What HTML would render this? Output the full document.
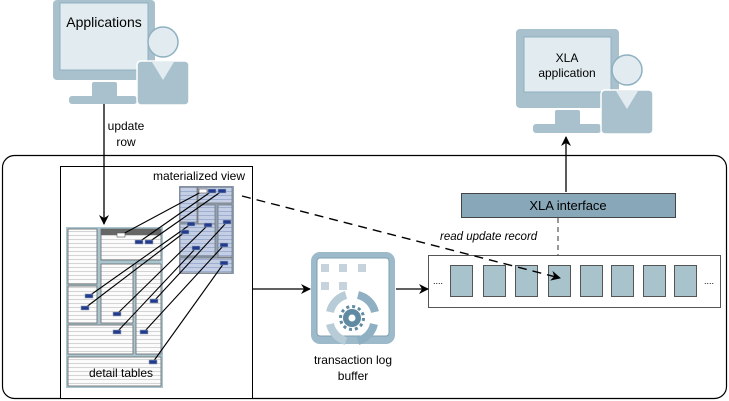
<!DOCTYPE html>
<html><head><meta charset="utf-8"><style>
html,body{margin:0;padding:0;background:#fff;}
svg{display:block;font-family:"Liberation Sans",sans-serif;}
</style></head><body>
<svg width="729" height="401" viewBox="0 0 729 401" xmlns="http://www.w3.org/2000/svg">
<defs>
<pattern id="st" width="4" height="4" patternUnits="userSpaceOnUse"><rect width="4" height="4" fill="#fbfbfb"/><rect y="3" width="4" height="1" fill="#d4d4d4"/></pattern>
<pattern id="sb" width="4" height="4" patternUnits="userSpaceOnUse"><rect width="4" height="4" fill="#c4cfe6"/><rect y="3" width="4" height="1" fill="#9eaed0"/></pattern>
<marker id="ah" markerWidth="10" markerHeight="10" refX="9" refY="5" orient="auto" markerUnits="userSpaceOnUse"><path d="M0,0 L10,5 L0,10 L3,5 Z" fill="#000"/></marker>
</defs>

<rect x="2.5" y="155.5" width="724" height="243" rx="12" fill="none" stroke="#000" stroke-width="1.2"/>
<rect x="60.5" y="166.5" width="192" height="232" fill="#fff" stroke="#000" stroke-width="1"/>

<!-- Applications computer -->
<rect x="53" y="0" width="102" height="80" rx="4" fill="#a9c1cd"/>
<rect x="60" y="3" width="88" height="67" fill="#e2ebf0" stroke="#8fb0c0"/>
<rect x="92" y="82" width="25" height="16" rx="2" fill="#a9c1cd"/>
<rect x="69" y="96" width="68" height="8" rx="3" fill="#a9c1cd"/>
<circle cx="163" cy="42" r="15" fill="#e2ebf0" stroke="#8fb0c0" stroke-width="1.5"/>
<rect x="137" y="61" width="52" height="44" rx="4" fill="#a9c1cd" stroke="#fff" stroke-width="1.5"/>
<path d="M152,62 L163,80 L174,62" fill="#e2ebf0"/>
<text x="104" y="27" font-size="14" text-anchor="middle">Applications</text>
<line x1="104" y1="104" x2="104" y2="224" stroke="#000" stroke-width="1.3" marker-end="url(#ah)"/>
<text x="126" y="130" font-size="12" text-anchor="middle">update</text>
<text x="126" y="146" font-size="12" text-anchor="middle">row</text>

<!-- XLA computer -->
<rect x="516" y="29" width="103" height="79" rx="4" fill="#a9c1cd"/>
<rect x="524" y="37" width="87" height="55" fill="#e2ebf0" stroke="#8fb0c0"/>
<rect x="555" y="110" width="25" height="16" rx="2" fill="#a9c1cd"/>
<rect x="533" y="124" width="68" height="9" rx="3" fill="#a9c1cd"/>
<circle cx="627" cy="70" r="15" fill="#e2ebf0" stroke="#8fb0c0" stroke-width="1.5"/>
<rect x="601" y="90" width="52" height="44" rx="4" fill="#a9c1cd" stroke="#fff" stroke-width="1.5"/>
<path d="M616,91 L627,109 L638,91" fill="#e2ebf0"/>
<text x="567" y="62" font-size="12" text-anchor="middle">XLA</text>
<text x="567" y="77" font-size="12" text-anchor="middle">application</text>
<line x1="566" y1="192" x2="566" y2="137" stroke="#000" stroke-width="1.3" marker-end="url(#ah)"/>

<rect x="461.5" y="193.5" width="214" height="24" fill="#88a8b9" stroke="#444"/>
<text x="568" y="210" font-size="13" text-anchor="middle">XLA interface</text>
<line x1="558" y1="218" x2="558" y2="268" stroke="#555" stroke-width="1.2" stroke-dasharray="5,4"/>
<text x="440" y="240" font-size="11.5" font-style="italic">read update record</text>

<rect x="428.5" y="255.5" width="292" height="52" fill="#fff" stroke="#555"/>
<g fill="#a9c3cc" stroke="#555" stroke-width="1">
<rect x="450.5" y="265.5" width="22" height="31"/><rect x="483.5" y="265.5" width="22" height="31"/>
<rect x="515.5" y="265.5" width="22" height="31"/><rect x="548.5" y="265.5" width="22" height="31"/>
<rect x="580.5" y="265.5" width="22" height="31"/><rect x="611.5" y="265.5" width="22" height="31"/>
<rect x="643.5" y="265.5" width="22" height="31"/><rect x="674.5" y="265.5" width="22" height="31"/>
</g>
<text x="433" y="284" font-size="9">....</text>
<text x="704" y="284" font-size="9">....</text>

<!-- transaction log buffer -->
<rect x="311" y="252" width="84" height="92" rx="9" fill="#9dbacb"/>
<rect x="317" y="258" width="72" height="78" rx="3" fill="#fff" stroke="#7d9fb0"/>
<g fill="#c6d3dd"><rect x="321" y="264" width="8" height="8"/><rect x="339" y="264" width="8" height="8"/><rect x="358" y="264" width="8" height="8"/><rect x="321" y="282" width="8" height="8"/><rect x="339" y="282" width="8" height="8"/></g>
<g fill="none" stroke-width="8">
<path d="M330,312 A23,23 0 0 1 346,295" stroke="#b7ccd7"/>
<path d="M358,295 A23,23 0 0 1 375,312" stroke="#8fb0c2"/>
<path d="M374,324 A23,23 0 0 1 358,341" stroke="#8fb0c2"/>
<path d="M346,341 A23,23 0 0 1 330,324" stroke="#b7ccd7"/>
</g>
<circle cx="352" cy="318" r="9" fill="#5f8aa2"/>
<circle cx="352" cy="318" r="11.5" fill="none" stroke="#5f8aa2" stroke-width="3" stroke-dasharray="3,3"/>
<circle cx="352" cy="318" r="3.5" fill="#fff"/>
<text x="353" y="364" font-size="12" text-anchor="middle">transaction log</text>
<text x="353" y="380" font-size="12" text-anchor="middle">buffer</text>

<line x1="252" y1="289" x2="310" y2="289" stroke="#000" stroke-width="1.3" marker-end="url(#ah)"/>
<line x1="396" y1="289" x2="428" y2="289" stroke="#000" stroke-width="1.3" marker-end="url(#ah)"/>

<!-- detail tables -->
<rect x="66" y="227" width="97" height="161" fill="#a9c5cf"/>
<g fill="url(#st)" stroke="#666" stroke-width="0.8">
<rect x="68" y="229" width="29" height="55"/>
<rect x="101" y="229" width="60" height="31"/>
<rect x="68" y="286" width="29" height="37"/>
<rect x="101" y="264" width="32" height="59"/>
<rect x="136" y="264" width="25" height="90"/>
<rect x="68" y="325" width="65" height="29"/>
<rect x="68" y="357" width="93" height="29"/>
</g>
<rect x="101" y="229" width="60" height="6" fill="#666"/>
<text x="121" y="377" font-size="12" text-anchor="middle">detail tables</text>

<!-- materialized view -->
<rect x="179" y="186" width="55" height="88" fill="#8ea2b8"/>
<g fill="url(#sb)" stroke="#777" stroke-width="0.8">
<rect x="180" y="187" width="17" height="35"/>
<rect x="198" y="187" width="34" height="16"/>
<rect x="198" y="205" width="17" height="33"/>
<rect x="218" y="205" width="14" height="52"/>
<rect x="180" y="224" width="35" height="32"/>
<rect x="180" y="258" width="52" height="15"/>
</g>
<text x="199" y="180" font-size="12" text-anchor="middle">materialized view</text>

<g stroke="#000" stroke-width="1.1">
<line x1="203" y1="191" x2="121" y2="235"/>
<line x1="212" y1="191" x2="139" y2="242"/>
<line x1="222" y1="191" x2="149" y2="242"/>
<line x1="191" y1="224" x2="89" y2="296"/>
<line x1="185" y1="232" x2="85" y2="308"/>
<line x1="208" y1="225" x2="117" y2="314"/>
<line x1="227" y1="222" x2="154" y2="301"/>
<line x1="196" y1="248" x2="117" y2="332"/>
<line x1="224" y1="245" x2="144" y2="332"/>
<line x1="224" y1="263" x2="153" y2="362"/>
</g>
<g fill="#233b8c" stroke="#9ab" stroke-width="0.6">
<rect x="208" y="189" width="8" height="4"/><rect x="218" y="189" width="8" height="4"/>
<rect x="187" y="222" width="8" height="4"/><rect x="181" y="230" width="8" height="4"/>
<rect x="204" y="223" width="8" height="4"/><rect x="223" y="220" width="8" height="4"/>
<rect x="192" y="246" width="8" height="4"/><rect x="220" y="243" width="8" height="4"/>
<rect x="220" y="261" width="8" height="4"/>
<rect x="135" y="240" width="8" height="4"/><rect x="145" y="240" width="8" height="4"/>
<rect x="85" y="294" width="8" height="4"/><rect x="81" y="306" width="8" height="4"/>
<rect x="113" y="312" width="8" height="4"/><rect x="150" y="299" width="8" height="4"/>
<rect x="113" y="330" width="8" height="4"/><rect x="140" y="330" width="8" height="4"/>
<rect x="149" y="360" width="8" height="4"/>
</g>
<rect x="199" y="189" width="8" height="4" fill="#fff" stroke="#555" stroke-width="0.6"/>
<rect x="117" y="233" width="8" height="4" fill="#fff" stroke="#555" stroke-width="0.6"/>

<line x1="242" y1="196" x2="560" y2="278" stroke="#000" stroke-width="1.4" stroke-dasharray="9,6" marker-end="url(#ah)"/>
</svg>
</body></html>
